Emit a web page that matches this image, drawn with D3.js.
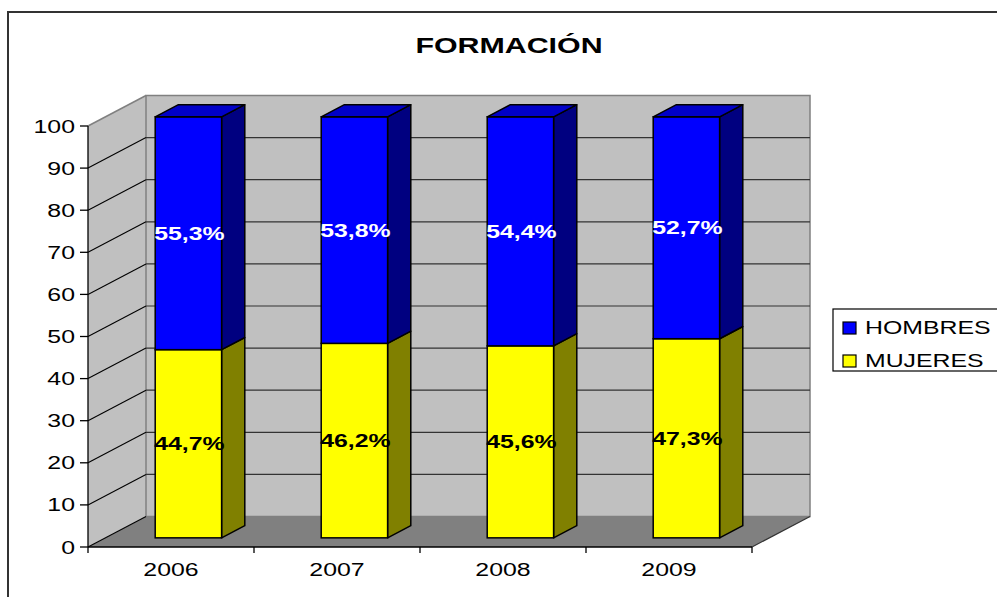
<!DOCTYPE html>
<html>
<head>
<meta charset="utf-8">
<script src="https://cdn.jsdelivr.net/npm/d3@7"></script>
<style>
  html, body { margin: 0; padding: 0; background: #fff; }
  svg { display: block; }
  text { font-family: "Liberation Sans", Arial, sans-serif; }
</style>
</head>
<body>
<svg id="chart" width="997" height="597"></svg>
<script>
// Data: share of training participants by sex and year
const years = ["2006", "2007", "2008", "2009"];
const mujeres = [44.7, 46.2, 45.6, 47.3];
const hombres = [55.3, 53.8, 54.4, 52.7];
const yTicks = [0, 10, 20, 30, 40, 50, 60, 70, 80, 90, 100];
const seriesNames = ["HOMBRES", "MUJERES"];

const svg = d3.select("#chart");
const W = 997, H = 597;
const SX = 1.38; // horizontal text stretch

// Plot geometry (front plane) and 3D depth offset
const x = d3.scaleBand().domain(years).range([88, 752]);
const y = d3.scaleLinear().domain([0, 100]).range([547, 126]);
const DX = 58, DY = -30.5;
const f0 = 0.3, f1 = 0.7;          // bar front/back depth fractions
const barW = x.bandwidth() * 0.4;

const colors = {
  HOMBRES: { front: "#0000ff", top: "#0000c8", side: "#000080", label: "#ffffff" },
  MUJERES: { front: "#ffff00", top: "#c8c800", side: "#808000", label: "#000000" }
};

function stretchedText(g, tx, ty, str, opts) {
  const t = g.append("g").attr("transform", `translate(${tx},${ty}) scale(${SX},1)`)
    .append("text")
    .attr("x", 0).attr("y", 0)
    .attr("text-anchor", opts.anchor || "start")
    .attr("dominant-baseline", opts.baseline || "auto")
    .attr("font-size", opts.size || 18)
    .attr("font-weight", opts.weight || "normal")
    .attr("fill", opts.fill || "#000")
    .text(str);
  return t;
}

// Outer chart border
svg.append("rect")
  .attr("x", 8).attr("y", 12).attr("width", 1000).attr("height", 600)
  .attr("fill", "none").attr("stroke", "#333").attr("stroke-width", 2);

// Title
stretchedText(svg, 509, 53, "FORMACIÓN", { anchor: "middle", size: 22, weight: "bold" });

const x0 = x.range()[0], x1 = x.range()[1];
const yb = y(0), yt = y(100);
const P = (a, b) => a + "," + b;

// Floor
svg.append("polygon")
  .attr("points", [P(x0, yb), P(x1, yb), P(x1 + DX, yb + DY), P(x0 + DX, yb + DY)].join(" "))
  .attr("fill", "#808080").attr("stroke", "none");

// Left wall
svg.append("polygon")
  .attr("points", [P(x0, yb), P(x0 + DX, yb + DY), P(x0 + DX, yt + DY), P(x0, yt)].join(" "))
  .attr("fill", "#c0c0c0").attr("stroke", "none");

// Back wall
svg.append("rect")
  .attr("x", x0 + DX).attr("y", yt + DY)
  .attr("width", x1 - x0).attr("height", yb - yt)
  .attr("fill", "#c0c0c0").attr("stroke", "#808080").attr("stroke-width", 1.5);

// Gridlines on back and left walls
const grid = svg.append("g");
yTicks.forEach(v => {
  const yy = y(v);
  if (v > 0 && v < 100) {
    grid.append("line")
      .attr("x1", x0 + DX).attr("x2", x1 + DX)
      .attr("y1", yy + DY).attr("y2", yy + DY)
      .attr("stroke", "#333").attr("stroke-width", 1.2);
  }
  grid.append("line")
    .attr("x1", x0).attr("y1", yy)
    .attr("x2", x0 + DX).attr("y2", yy + DY)
    .attr("stroke", v === 100 ? "#808080" : "#000").attr("stroke-width", v === 100 ? 1.5 : 1.1);
});

// Floor front-right edge
svg.append("line")
  .attr("x1", x1).attr("y1", yb).attr("x2", x1 + DX).attr("y2", yb + DY)
  .attr("stroke", "#333").attr("stroke-width", 1.2);

// Stacked 3D bars
const bars = svg.append("g");
const labels = svg.append("g");
years.forEach((yr, i) => {
  const fx = x(yr) + x.bandwidth() / 2 - barW / 2 + f0 * DX;
  const ox = f0 * DY;
  const dx = (f1 - f0) * DX, dy = (f1 - f0) * DY;
  const segs = [
    { name: "MUJERES", lo: 0, hi: mujeres[i] },
    { name: "HOMBRES", lo: mujeres[i], hi: mujeres[i] + hombres[i] }
  ];
  segs.forEach((s, k) => {
    const c = colors[s.name];
    const yTop = y(s.hi) + ox, yBot = y(s.lo) + ox;
    // side face
    bars.append("polygon")
      .attr("points", [P(fx + barW, yBot), P(fx + barW + dx, yBot + dy), P(fx + barW + dx, yTop + dy), P(fx + barW, yTop)].join(" "))
      .attr("fill", c.side).attr("stroke", "#000").attr("stroke-width", 1.5).attr("stroke-linejoin", "round");
    // front face
    bars.append("rect")
      .attr("x", fx).attr("y", yTop).attr("width", barW).attr("height", yBot - yTop)
      .attr("fill", c.front).attr("stroke", "#000").attr("stroke-width", 1.5);
    // top face on the uppermost segment
    if (k === segs.length - 1) {
      bars.append("polygon")
        .attr("points", [P(fx, yTop), P(fx + dx, yTop + dy), P(fx + barW + dx, yTop + dy), P(fx + barW, yTop)].join(" "))
        .attr("fill", c.top).attr("stroke", "#000").attr("stroke-width", 1.5).attr("stroke-linejoin", "round");
    }
    const val = s.hi - s.lo;
    stretchedText(labels, fx + barW / 2 + 1, (yTop + yBot) / 2 + 6.5,
      val.toFixed(1).replace(".", ",") + "%",
      { anchor: "middle", size: 18, weight: "bold", fill: c.label });
  });
});

// Value axis
const yAxis = svg.append("g");
yAxis.append("line").attr("x1", x0).attr("x2", x0).attr("y1", yt).attr("y2", yb)
  .attr("stroke", "#000").attr("stroke-width", 1.3);
yTicks.forEach(v => {
  yAxis.append("line").attr("x1", x0 - 8).attr("x2", x0).attr("y1", y(v)).attr("y2", y(v))
    .attr("stroke", "#000").attr("stroke-width", 1.3);
  stretchedText(yAxis, 75, y(v) + 6.5, String(v), { anchor: "end", size: 18 });
});

// Category axis
const xAxis = svg.append("g");
xAxis.append("line").attr("x1", x0).attr("x2", x1).attr("y1", yb).attr("y2", yb)
  .attr("stroke", "#000").attr("stroke-width", 1.3);
[x0].concat(years.map(d => x(d) + x.bandwidth())).forEach(px => {
  xAxis.append("line").attr("x1", px).attr("x2", px).attr("y1", yb).attr("y2", yb + 6)
    .attr("stroke", "#000").attr("stroke-width", 1.3);
});
years.forEach(yr => {
  stretchedText(xAxis, x(yr) + x.bandwidth() / 2, 576, yr, { anchor: "middle", size: 18 });
});

// Legend
const lg = svg.append("g");
lg.append("rect").attr("x", 833).attr("y", 309).attr("width", 200).attr("height", 62)
  .attr("fill", "#fff").attr("stroke", "#000").attr("stroke-width", 1.2);
seriesNames.forEach((n, i) => {
  const yy = 322 + i * 33;
  lg.append("rect").attr("x", 843).attr("y", yy).attr("width", 13).attr("height", 12)
    .attr("fill", colors[n].front).attr("stroke", "#000").attr("stroke-width", 1.2);
  stretchedText(lg, 865, yy + 12, n, { anchor: "start", size: 18 });
});
</script>
</body>
</html>
